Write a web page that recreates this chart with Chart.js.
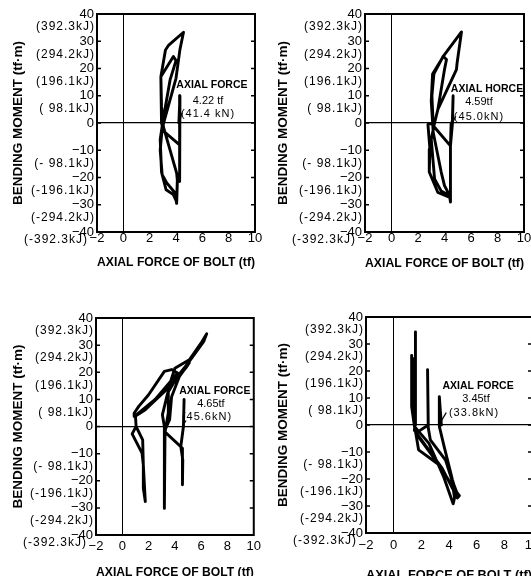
<!DOCTYPE html>
<html><head><meta charset="utf-8">
<script src="https://cdn.jsdelivr.net/npm/chart.js@4/dist/chart.umd.min.js"></script>
<style>
html,body{margin:0;padding:0;background:#fff;overflow:hidden;width:531px;height:576px;position:relative}
canvas{position:absolute}
</style></head><body>
<canvas id="c1"></canvas><canvas id="c2"></canvas><canvas id="c3"></canvas><canvas id="c4"></canvas>
<script>
// ---- data ----
const xTicks = [-2, 0, 2, 4, 6, 8, 10];
const yTicks = [40, 30, 20, 10, 0, -10, -20, -30, -40];
const yTicksKJ = ['(392.3kJ)', '(294.2kJ)', '(196.1kJ)', '( 98.1kJ)', '', '(- 98.1kJ)', '(-196.1kJ)', '(-294.2kJ)', '(-392.3kJ)'];
const xTitle = 'AXIAL FORCE OF BOLT (tf)';
const yTitle = 'BENDING MOMENT (tf·m)';

const p1x = [4.22,4.3,4.3,4.25,4.25,4.3,3.05,2.9,2.85,3.05,3.8,4.0,3.55,3.05,2.8,2.9,3.25,3.8,4.05,4.1,4.05,3.05,2.9,2.85,3.2,3.45,4.57,4.3,4.0,3.2,2.95,2.8,2.95,3.3,3.9,4.05,4.1];
const p1y = [0,10,0,-7.5,-21.5,-8,-3,0,17,18.5,24.4,22.9,15.8,2,-6,-18,-24.5,-26.3,-29,-21,-18.4,-1.5,6,17,26.8,28.6,33.3,27,16.4,2.4,-2,-10,-19,-22,-25.5,-29.5,-22];

const p2x = [4.59,4.65,4.6,4.45,3.15,3.05,3.2,3.9,4.15,4.0,3.5,3.25,3.0,3.25,3.75,4.4,4.0,3.75,3.15,3.0,3.1,4.0,5.28,4.95,4.9,3.5,3.25,2.75,2.9,2.85,3.5,4.4,4.45,4.45,4.5];
const p2y = [0,10,0,-8.4,-1,10,18,24.5,23.3,19.6,5,0,-6,-20.5,-25,-26.7,-23,-18,-3.5,8,18,25.1,33.4,22,19.6,5,0,-0.5,-9.6,-18,-25.5,-27.3,-29,-8.4,0];

const p3x = [4.65,4.7,4.65,4.45,4.6,4.6,4.55,3.2,3.6,3.75,4.35,5.1,4.9,3.9,3.45,3.05,3.2,3.2,3.25,3.5,3.5,4.0,5.1,6.0,6.42,6.2,5.0,3.5,1.75,0.95,0.9,1.25,2.0,3.2,3.75,4.2,2.5,1.0,1.05,0.75,1.5,1.6,1.75,1.6,1.6,1.55,1.05];
const p3y = [0,10,0,-7.4,-12.3,-21.5,-8,-1.8,2.5,11,18.5,23.5,22,16,12.3,4.3,0,-30.2,-2,5,14,21.5,24.6,30.8,34.2,31.4,23.4,14.2,6.2,3.7,4.9,7.4,11.7,20.3,21,19.7,10,4,0,-2.7,-9.8,-14.2,-27.7,-22.8,-14.2,-4.9,0];

const p4x = [3.45,3.3,3.3,3.65,4.25,4.5,4.7,4.5,3.75,2.65,2.5,2.45,2.5,1.6,3.3,4.3,4.6,4.2,4.4,4.3,3.6,2.55,1.5,1.3,1.3,1.35,1.42,1.45,1.5,1.8,3.3,4.25,4.75,4.6,3.5,1.5,1.55,1.6,1.55];
const p4y = [0,10.5,-0.5,-8,-20.3,-24.6,-26.2,-25,-13,-5.5,-1,20.5,0,-3,-15,-23,-25.5,-20,-27,-29.2,-19,-6.8,-0.5,6.8,25.8,5,24.5,3,0,-9.2,-14.8,-22.8,-26.2,-27,-16,-2,2,34.5,0];

const noteText = [
  ['AXIAL FORCE', '4.22 tf', '(41.4 kN)'],
  ['AXIAL HORCE', '4.59tf', '(45.0kN)'],
  ['AXIAL FORCE', '4.65tf', '(45.6kN)'],
  ['AXIAL FORCE', '3.45tf', '(33.8kN)']
];
const leaderX = [[4.45, 4.3], [4.85, 4.65], [4.85, 4.6], [3.8, 3.35]];
const leaderY = [[3.8, 0.8], [2.5, 0.5], [2.2, 0.3], [4.6, 0.7]];

// ---- layout (positions, not data) ----
const panels = [
  {id:'c1', left:0,   top:0,   w:265, h:280, padTop:14, padRight:10, yW:97,  xH:48, xPad:-1, xTitlePad:10, notePos:[[6.73,13.9],[6.43,8.1],[6.43,3.3]]},
  {id:'c2', left:265, top:0,   w:266, h:280, padTop:14, padRight:7,  yW:100, xH:48, xPad:-1, xTitlePad:9,  notePos:[[7.21,12.5],[6.6,7.7],[6.6,2.2]]},
  {id:'c3', left:0,   top:280, w:265, h:310, padTop:38, padRight:7,  yW:96,  xH:55, xPad:4,  xTitlePad:10, notePos:[[7.04,13.1],[6.74,8.3],[6.44,3.5]]},
  {id:'c4', left:265, top:280, w:280, h:310, padTop:37, padRight:13, yW:101, xH:57, xPad:5,  xTitlePad:7,  notePos:[[6.1,14.4],[5.95,9.6],[5.81,4.4]]}
];
const series = [[p1x,p1y],[p2x,p2y],[p3x,p3y],[p4x,p4y]];
const FAM = "'Liberation Sans', Arial, sans-serif";
const fmt = v => v < 0 ? '\u2212' + Math.abs(v) : String(v);

const deco = {
  id: 'deco',
  afterDraw(chart, args, o) {
    const {ctx, chartArea: a, scales: {x, y}} = chart;
    ctx.save();
    ctx.strokeStyle = '#000'; ctx.fillStyle = '#000';
    ctx.lineWidth = 2;
    ctx.strokeRect(a.left, a.top, a.right - a.left, a.bottom - a.top);
    ctx.lineWidth = 1.5;
    yTicks.forEach(v => {
      const py = y.getPixelForValue(v);
      ctx.beginPath();
      ctx.moveTo(a.left, py); ctx.lineTo(a.left + 4, py);
      ctx.moveTo(a.right, py); ctx.lineTo(a.right - 4, py);
      ctx.stroke();
    });
    ctx.textAlign = 'right'; ctx.textBaseline = 'middle';
    ctx.font = '12px ' + FAM;
    ctx.letterSpacing = '1px';
    yTicks.forEach((v, i) => {
      if (!yTicksKJ[i]) return;
      const last = i === yTicks.length - 1;
      ctx.fillText(yTicksKJ[i], a.left - (last ? 9 : 2), y.getPixelForValue(v) + (last ? 8 : 13));
    });
    // annotation
    const t = noteText[o.idx], p = o.pos;
    ctx.textAlign = 'center';
    ctx.letterSpacing = '0px';
    ctx.font = 'bold 10.5px ' + FAM;
    ctx.fillText(t[0], x.getPixelForValue(p[0][0]), y.getPixelForValue(p[0][1]));
    ctx.font = '11px ' + FAM;
    ctx.fillText(t[1], x.getPixelForValue(p[1][0]), y.getPixelForValue(p[1][1]));
    ctx.letterSpacing = '1px';
    ctx.fillText(t[2], x.getPixelForValue(p[2][0]), y.getPixelForValue(p[2][1]));
    ctx.restore();
  }
};

panels.forEach((P, k) => {
  const cv = document.getElementById(P.id);
  cv.width = P.w; cv.height = P.h;
  cv.style.left = P.left + 'px'; cv.style.top = P.top + 'px';
  cv.style.width = P.w + 'px'; cv.style.height = P.h + 'px';
  const [xs, ys] = series[k];
  const pts = xs.map((v, i) => ({x: v, y: ys[i]}));
  const lead = leaderX[k].map((v, i) => ({x: v, y: leaderY[k][i]}));
  new Chart(cv, {
    type: 'scatter',
    data: {datasets: [
      {data: pts, showLine: true, borderColor: '#000', borderWidth: 2.9, pointRadius: 0, tension: 0, borderJoinStyle: 'round', borderCapStyle: 'round'},
      {data: lead, showLine: true, borderColor: '#000', borderWidth: 1.2, pointRadius: 0, tension: 0}
    ]},
    options: {
      responsive: false, animation: false, devicePixelRatio: 1,
      layout: {padding: {left: 0, top: P.padTop, right: P.padRight, bottom: 0}},
      plugins: {legend: {display: false}, tooltip: {enabled: false}, deco: {idx: k, pos: P.notePos}},
      scales: {
        x: {
          type: 'linear', min: -2, max: 10,
          afterBuildTicks: s => { s.ticks = xTicks.map(v => ({value: v})); },
          afterFit: s => { s.height = P.xH; },
          ticks: {color: '#000', font: {family: FAM, size: 13}, padding: P.xPad, callback: v => fmt(v), maxRotation: 0, autoSkip: false},
          grid: {drawTicks: false, color: c => (c.tick && c.tick.value === 0) ? '#000' : 'rgba(0,0,0,0)', lineWidth: 1},
          border: {display: false},
          title: {display: true, text: xTitle, color: '#000', font: {family: FAM, size: 13, weight: 'bold'}, padding: {top: 0, bottom: P.xTitlePad}}
        },
        y: {
          type: 'linear', min: -40, max: 40,
          afterBuildTicks: s => { s.ticks = yTicks.map(v => ({value: v})); },
          afterFit: s => { s.width = P.yW; },
          ticks: {color: '#000', font: {family: FAM, size: 13}, padding: 3, callback: v => fmt(v), autoSkip: false},
          grid: {drawTicks: false, color: c => (c.tick && c.tick.value === 0) ? '#000' : 'rgba(0,0,0,0)', lineWidth: 1.3},
          border: {display: false},
          title: {display: true, text: yTitle, color: '#000', font: {family: FAM, size: 13.5, weight: 'bold'}, padding: {top: 10, bottom: 0}}
        }
      }
    },
    plugins: [deco]
  });
});
</script>
</body></html>
